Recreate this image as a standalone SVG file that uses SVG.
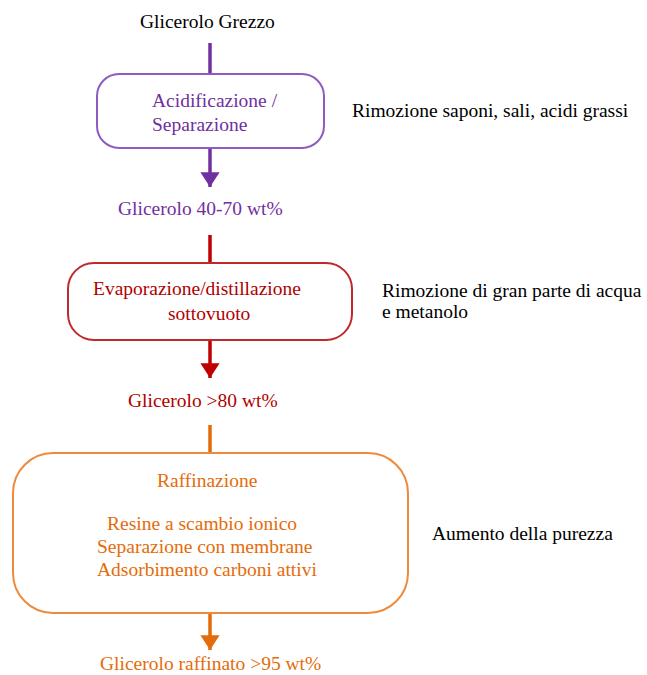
<svg xmlns="http://www.w3.org/2000/svg" width="647" height="675" viewBox="0 0 647 675">
<style>
text{font-family:"Liberation Serif","Times New Roman",serif;font-size:19.5px}
.k{fill:#000}
.p{fill:#7030a0}
.r{fill:#b00000}
.o{fill:#e46c0a}
.box{fill:#fff;stroke-width:2}
.ln{stroke-width:3.5;fill:none}
</style>
<defs>
<marker id="ap" viewBox="0 0 10 10" refX="10" refY="5" markerWidth="4.2" markerHeight="5.5" markerUnits="strokeWidth" orient="auto" preserveAspectRatio="none"><path d="M0,0L10,5L0,10z" fill="#7030a0"/></marker>
<marker id="ar" viewBox="0 0 10 10" refX="10" refY="5" markerWidth="4.2" markerHeight="5.5" markerUnits="strokeWidth" orient="auto" preserveAspectRatio="none"><path d="M0,0L10,5L0,10z" fill="#c00000"/></marker>
<marker id="ao" viewBox="0 0 10 10" refX="10" refY="5" markerWidth="4.2" markerHeight="5.5" markerUnits="strokeWidth" orient="auto" preserveAspectRatio="none"><path d="M0,0L10,5L0,10z" fill="#e36c0a"/></marker>
</defs>
<rect width="647" height="675" fill="#fff"/>
<g id="connectors">
<line class="ln" x1="210" y1="43" x2="210" y2="74" stroke="#7030a0"/>
<line class="ln" x1="210" y1="148" x2="210" y2="187" stroke="#7030a0" marker-end="url(#ap)"/>
<line class="ln" x1="210" y1="235" x2="210" y2="263" stroke="#c00000"/>
<line class="ln" x1="210" y1="340" x2="210" y2="378" stroke="#c00000" marker-end="url(#ar)"/>
<line class="ln" x1="210" y1="425" x2="210" y2="453" stroke="#e36c0a"/>
<line class="ln" x1="210" y1="613" x2="210" y2="650" stroke="#e36c0a" marker-end="url(#ao)"/>
</g>
<g id="start"><text class="k" x="140" y="28">Glicerolo Grezzo</text></g>
<g id="acidificazione">
<rect class="box" x="97" y="74" width="227" height="74" rx="22" stroke="#8e5cc0"/>
<text class="p" x="152" y="107">Acidificazione /</text>
<text class="p" x="152" y="131">Separazione</text>
</g>
<g id="note1"><text class="k" x="352" y="117">Rimozione saponi, sali, acidi grassi</text></g>
<g id="glicerolo4070"><text class="p" x="118" y="215">Glicerolo 40-70 wt%</text></g>
<g id="evaporazione">
<rect class="box" x="68" y="263" width="284" height="77" rx="26" stroke="#c0282d"/>
<text class="r" x="93" y="295">Evaporazione/distillazione</text>
<text class="r" x="168" y="320">sottovuoto</text>
</g>
<g id="note2"><text class="k" x="382" y="297">Rimozione di gran parte di acqua</text><text class="k" x="382" y="318">e metanolo</text></g>
<g id="glicerolo80"><text class="r" x="128" y="407">Glicerolo &gt;80 wt%</text></g>
<g id="raffinazione">
<rect class="box" x="13" y="453" width="395" height="160" rx="40" stroke="#ef8a3c"/>
<text class="o" x="157" y="487">Raffinazione</text>
<text class="o" x="107" y="530">Resine a scambio ionico</text>
<text class="o" x="97" y="553">Separazione con membrane</text>
<text class="o" x="97" y="576">Adsorbimento carboni attivi</text>
</g>
<g id="note3"><text class="k" x="432" y="540">Aumento della purezza</text></g>
<g id="end"><text class="o" x="100" y="670">Glicerolo raffinato &gt;95 wt%</text></g>
</svg>
